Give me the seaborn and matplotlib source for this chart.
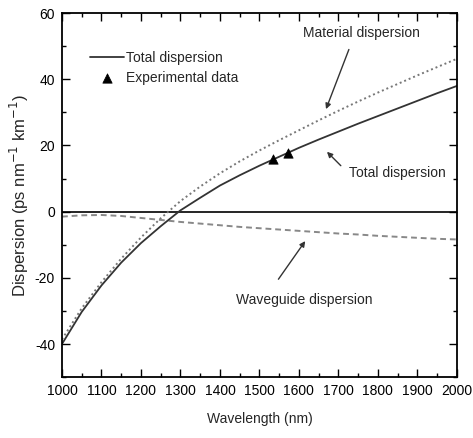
import matplotlib
matplotlib.use("Agg")
import matplotlib.pyplot as plt
import seaborn as sns
import pandas as pd

wavelength = [1000, 1050, 1100, 1150, 1200, 1250, 1300, 1350, 1400, 1450, 1500,
              1550, 1600, 1650, 1700, 1750, 1800, 1850, 1900, 1950, 2000]
total_disp = [-40.0, -30.3, -22.3, -15.4, -9.5, -4.4, 0.4, 4.2, 7.9, 11.0, 13.9,
              16.6, 19.3, 21.8, 24.2, 26.6, 28.9, 31.2, 33.5, 35.8, 38.0]
material_disp = [-38.6, -29.2, -21.3, -14.2, -7.8, -2.0, 3.2, 7.6, 11.6, 15.2, 18.5,
                 21.6, 24.6, 27.6, 30.5, 33.3, 36.0, 38.6, 41.2, 43.7, 46.2]
waveguide_disp = [-1.5, -1.1, -1.0, -1.3, -1.9, -2.5, -3.1, -3.6, -4.1, -4.6, -5.0,
                  -5.4, -5.8, -6.2, -6.6, -6.9, -7.3, -7.6, -7.9, -8.2, -8.4]
exp_wavelength = [1535, 1572]
exp_disp = [15.8, 17.8]

sns.set_theme(style="ticks")
plt.rcParams['font.family'] = ['Liberation Sans', 'DejaVu Sans']
plt.rcParams['axes.unicode_minus'] = False
FS = 10

df = pd.DataFrame({"wl": wavelength, "total": total_disp,
                   "material": material_disp, "waveguide": waveguide_disp})
dfe = pd.DataFrame({"wl": exp_wavelength, "d": exp_disp})

fig = plt.figure(figsize=(4.73, 4.38), dpi=100)
ax = fig.add_axes([0.131, 0.139, 0.835, 0.831])

ax.axhline(0, color="black", lw=1.2, zorder=1)
sns.lineplot(data=df, x="wl", y="material", ax=ax, color="#777777", lw=1.4,
             linestyle=(0, (1, 1.5)), label="_nolegend_")
sns.lineplot(data=df, x="wl", y="waveguide", ax=ax, color="#888888", lw=1.4,
             linestyle=(0, (3, 2)), label="_nolegend_")
sns.lineplot(data=df, x="wl", y="total", ax=ax, color="#333333", lw=1.3,
             label="Total dispersion")
sns.scatterplot(data=dfe, x="wl", y="d", ax=ax, marker="^", color="black", s=45,
                edgecolor="black", label="Experimental data", zorder=5)

ax.set_xlim(1000, 2000)
ax.set_ylim(-50, 60)
ax.set_xticks(range(1000, 2001, 100))
ax.set_xticks(range(1050, 2000, 100), minor=True)
ax.set_yticks([-40, -20, 0, 20, 40, 60])
ax.set_yticks([-50, -30, -10, 10, 30, 50], minor=True)
ax.tick_params(which="both", direction="in", top=True, right=True, colors="black",
               labelsize=FS)
ax.tick_params(which="major", length=6, width=1, pad=5)
ax.tick_params(which="minor", length=3, width=1)
for s in ax.spines.values():
    s.set_color("black")
    s.set_linewidth(1.3)

ax.set_xlabel("Wavelength (nm)", fontsize=FS, labelpad=10)
ax.set_ylabel("Dispersion (ps nm$^{-1}$ km$^{-1}$)", fontsize=12, labelpad=3)

ax.legend(loc="upper left", bbox_to_anchor=(0.04, 0.93), frameon=False,
          fontsize=FS, handlelength=2.4, handletextpad=0.2, labelspacing=0.4)

arrowprops = dict(arrowstyle="-|>", color="#333333", lw=1.0, mutation_scale=8)
ax.text(1759, 54, "Material dispersion", ha="center", va="center", fontsize=FS)
ax.annotate("", xy=(1666, 30.2), xytext=(1729, 49.8), arrowprops=arrowprops)
ax.text(1848, 11.8, "Total dispersion", ha="center", va="center", fontsize=FS)
ax.annotate("", xy=(1666, 18.7), xytext=(1711, 13.3), arrowprops=arrowprops)
ax.text(1613, -26.6, "Waveguide dispersion", ha="center", va="center", fontsize=FS)
ax.annotate("", xy=(1620, -8.2), xytext=(1544, -21.1), arrowprops=arrowprops)

fig.savefig("out.png", dpi=100)
